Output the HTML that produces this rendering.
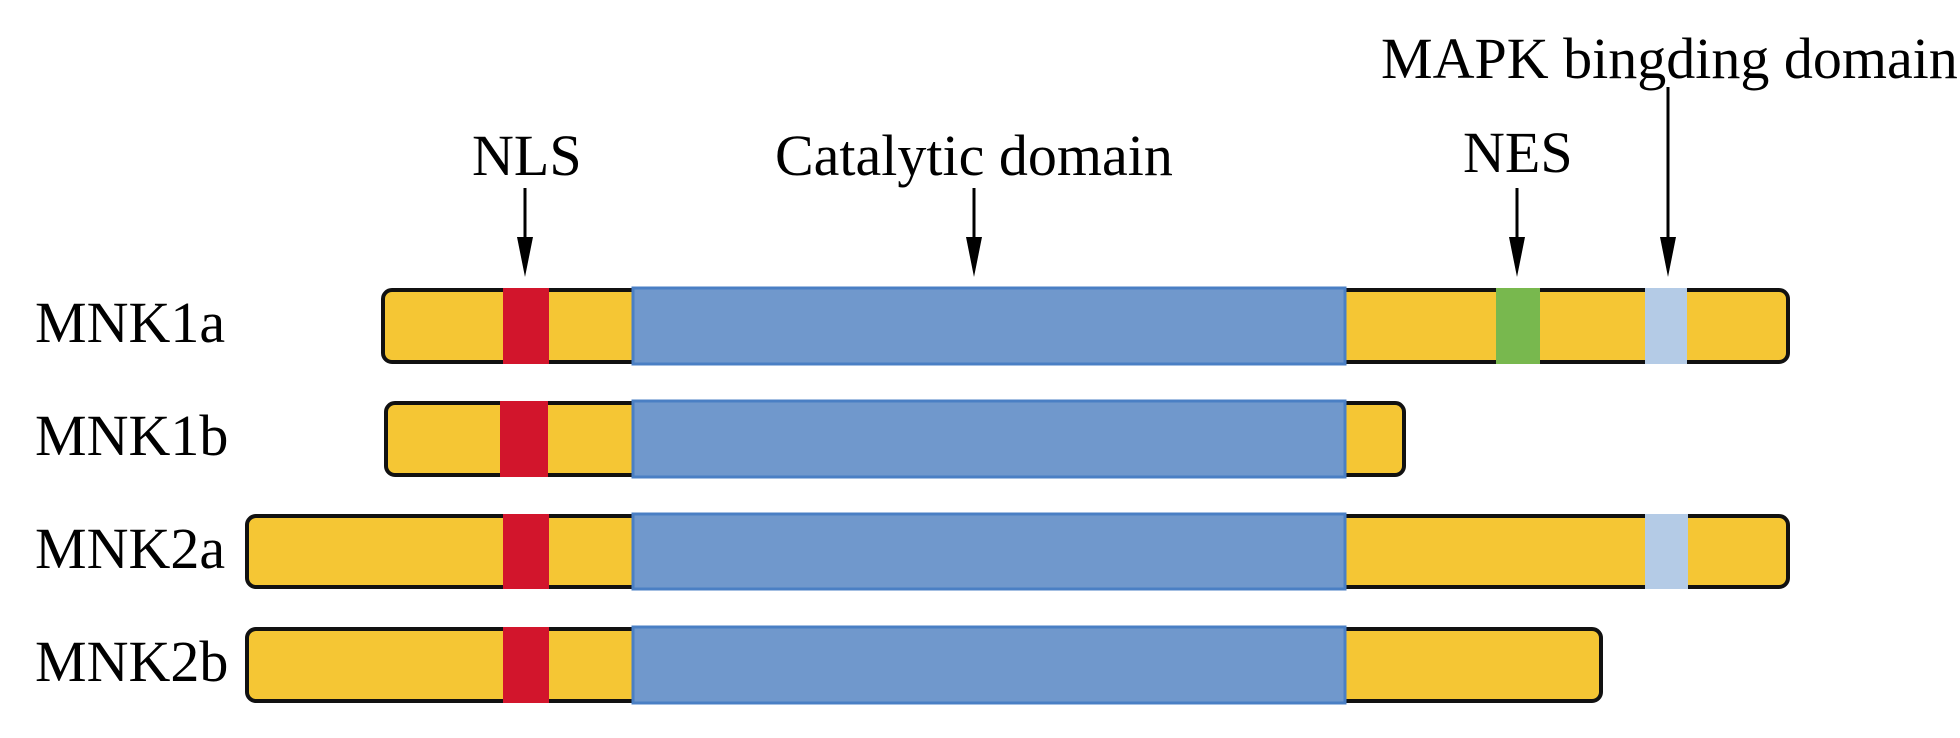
<!DOCTYPE html>
<html><head><meta charset="utf-8"><style>
html,body{margin:0;padding:0;background:#fff;}
svg{display:block;}
text{font-family:"Liberation Serif",serif;font-size:58px;fill:#000;}
</style></head><body>
<svg width="1960" height="738" viewBox="0 0 1960 738" xmlns="http://www.w3.org/2000/svg">
<defs>
<g id="ah"><polygon points="-8,-40 8,-40 0,0" fill="#000"/></g>
</defs>
<!-- top labels -->
<text x="472" y="175">NLS</text>
<text x="775" y="175">Catalytic domain</text>
<text x="1463" y="172">NES</text>
<text x="1381" y="78">MAPK bingding domain</text>
<!-- arrows -->
<g stroke="#000" stroke-width="3">
<line x1="525" y1="188" x2="525" y2="240"/>
<line x1="974" y1="188" x2="974" y2="240"/>
<line x1="1517" y1="188" x2="1517" y2="240"/>
<line x1="1668" y1="87" x2="1668" y2="240"/>
</g>
<use href="#ah" x="525" y="277"/>
<use href="#ah" x="974" y="277"/>
<use href="#ah" x="1517" y="277"/>
<use href="#ah" x="1668" y="277"/>
<!-- row labels -->
<text x="35" y="342">MNK1a</text>
<text x="35" y="455">MNK1b</text>
<text x="35" y="568">MNK2a</text>
<text x="35" y="681">MNK2b</text>

<!-- MNK1a -->
<rect x="383" y="290" width="1405" height="72" rx="9" fill="#F5C634" stroke="#111" stroke-width="4"/>
<rect x="503" y="288" width="46" height="76" fill="#D2152C"/>
<rect x="633" y="288" width="712" height="76" fill="#7098CC" stroke="#4A7FC4" stroke-width="3"/>
<rect x="1496" y="288" width="44" height="76" fill="#78B84E"/>
<rect x="1645" y="288" width="42" height="76" fill="#B4CBE6"/>

<!-- MNK1b -->
<rect x="386" y="403" width="1018" height="72" rx="9" fill="#F5C634" stroke="#111" stroke-width="4"/>
<rect x="500" y="401" width="48" height="76" fill="#D2152C"/>
<rect x="633" y="401" width="712" height="76" fill="#7098CC" stroke="#4A7FC4" stroke-width="3"/>

<!-- MNK2a -->
<rect x="247" y="516" width="1541" height="71" rx="9" fill="#F5C634" stroke="#111" stroke-width="4"/>
<rect x="503" y="514" width="46" height="75" fill="#D2152C"/>
<rect x="633" y="514" width="712" height="75" fill="#7098CC" stroke="#4A7FC4" stroke-width="3"/>
<rect x="1645" y="514" width="43" height="75" fill="#B4CBE6"/>

<!-- MNK2b -->
<rect x="247" y="629" width="1354" height="72" rx="9" fill="#F5C634" stroke="#111" stroke-width="4"/>
<rect x="503" y="627" width="46" height="76" fill="#D2152C"/>
<rect x="633" y="627" width="712" height="76" fill="#7098CC" stroke="#4A7FC4" stroke-width="3"/>
</svg>
</body></html>
